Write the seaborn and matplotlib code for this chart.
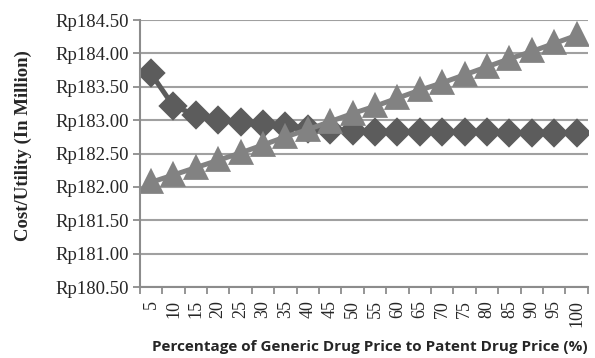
import pandas as pd
import matplotlib.pyplot as plt
import seaborn as sns
from matplotlib.ticker import FuncFormatter, FixedLocator

# Data
pct = [5, 10, 15, 20, 25, 30, 35, 40, 45, 50, 55, 60, 65, 70, 75, 80, 85, 90, 95, 100]
diamond_vals = [183.70, 183.21, 183.08, 183.00, 182.97, 182.95, 182.91, 182.87, 182.85, 182.84,
                182.83, 182.83, 182.82, 182.82, 182.82, 182.82, 182.81, 182.81, 182.81, 182.81]
triangle_vals = [182.07, 182.18, 182.29, 182.40, 182.51, 182.63, 182.75, 182.86, 182.98, 183.10,
                 183.21, 183.33, 183.45, 183.56, 183.68, 183.80, 183.92, 184.03, 184.15, 184.27]
series_names = ['Series A', 'Series B']

df = pd.DataFrame({
    'pct': [str(p) for p in pct] * 2,
    'value': diamond_vals + triangle_vals,
    'series': [series_names[0]] * len(pct) + [series_names[1]] * len(pct),
})

sns.set_style('white')
fig = plt.figure(figsize=(5.95, 3.58), dpi=100)
ax = fig.add_axes([0.235, 0.198, 0.753, 0.746])

sns.pointplot(data=df, x='pct', y='value', hue='series', order=[str(p) for p in pct],
              palette=['#5c5c5c', '#828282'], markers=['D', '^'], linestyles=['-', '-'],
              markersize=11, linewidth=3.6, legend=False, ax=ax, errorbar=None)
# marker sizes per series
for line in ax.lines:
    if line.get_marker() == '^':
        line.set_markersize(14)
    elif line.get_marker() == 'D':
        line.set_markersize(12)

ax.set_ylim(180.5, 184.5)
ax.set_xlim(-0.5, len(pct) - 0.5)
ax.set_yticks([180.5 + 0.5 * i for i in range(9)])
ax.yaxis.set_major_formatter(FuncFormatter(lambda v, _: f'Rp{v:.2f}'))
ax.yaxis.grid(True, color='#a0a0a0', linewidth=1.5)
ax.xaxis.grid(False)
ax.set_axisbelow(True)

for s in ['top', 'right']:
    ax.spines[s].set_visible(False)
for s in ['left', 'bottom']:
    ax.spines[s].set_color('#8c8c8c')
    ax.spines[s].set_linewidth(1.5)

serif = ['Liberation Serif', 'DejaVu Serif']
ax.tick_params(axis='y', which='major', length=5, color='#8c8c8c', width=1.3, left=True,
               labelsize=13.5, pad=3)
ax.tick_params(axis='x', which='major', length=0, labelsize=13, pad=9.5, rotation=90)
ax.xaxis.set_minor_locator(FixedLocator([i - 0.5 for i in range(len(pct) + 1)]))
ax.tick_params(axis='x', which='minor', length=5, color='#8c8c8c', width=1.3, bottom=True)
for lab in ax.get_xticklabels() + ax.get_yticklabels():
    lab.set_fontfamily(serif)

ax.set_xlabel('')
ax.set_ylabel('Cost/Utility (In Million)', fontsize=13.5, fontweight='bold', family=serif)
ax.yaxis.set_label_coords(-0.24, 0.53)
fig.text(0.622, 0.032, 'Percentage of Generic Drug Price to Patent Drug Price (%)',
         ha='center', va='center', fontsize=11, fontweight='bold', family=['Open Sans', 'DejaVu Sans'])

fig.savefig('out.png', dpi=100)
